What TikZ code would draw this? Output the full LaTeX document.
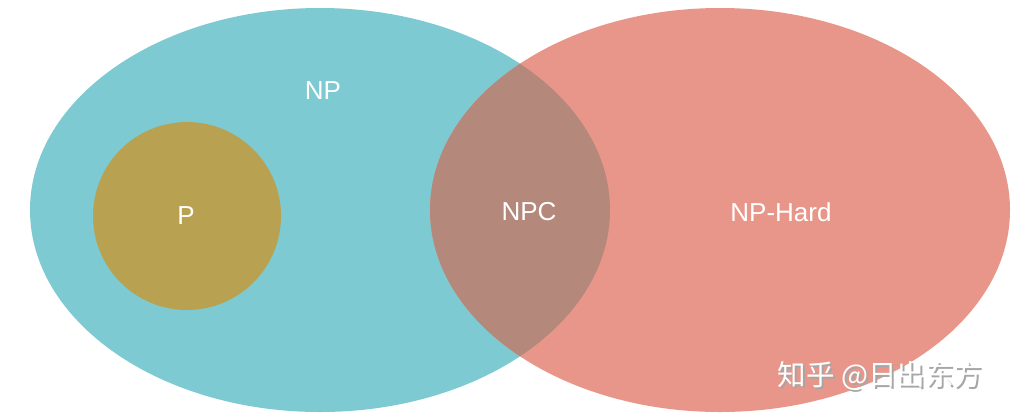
\documentclass[tikz,border=0pt]{standalone}
\usepackage{fontspec}
\setmainfont{Liberation Sans}
\newfontfamily\cjk{Noto Sans CJK SC}
\definecolor{npteal}{HTML}{7DCAD2}
\definecolor{nphard}{HTML}{E9968A}
\definecolor{npcol}{HTML}{B4887A}
\definecolor{pcol}{HTML}{B8A251}
\begin{document}
\begin{tikzpicture}[x=1pt,y=-1pt,
  lbl/.style={text=white,font=\fontsize{26}{26}\selectfont,inner sep=0pt,anchor=center}]
\useasboundingbox[fill=white] (0,0) rectangle (1022,416);
% NP ellipse
\fill[npteal] (320,210) ellipse [x radius=290, y radius=202];
% NP-Hard ellipse
\fill[nphard] (720,210) ellipse [x radius=290, y radius=202];
% overlap NPC
\begin{scope}
  \clip (320,210) ellipse [x radius=290, y radius=202];
  \fill[npcol] (720,210) ellipse [x radius=290, y radius=202];
\end{scope}
% P circle
\fill[pcol] (187,216) circle [radius=94];
\node[lbl] (np) at (323,91) {NP};
\node[lbl] (p) at (186,216) {P};
\node[lbl] (npc) at (529,212) {NPC};
\node[lbl] (nph) at (781,212) {NP-Hard};
\node[text=black!35,font=\cjk\fontsize{28.5}{28.5}\selectfont,inner sep=0pt] (wmshadow) at (882,378) {知乎 @日出东方};
\node[text=white,font=\cjk\fontsize{28.5}{28.5}\selectfont,inner sep=0pt] (wm) at (880,376) {知乎 @日出东方};
\end{tikzpicture}
\end{document}
